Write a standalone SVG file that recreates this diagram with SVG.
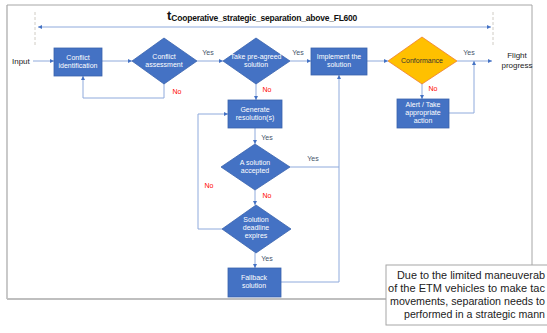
<svg xmlns="http://www.w3.org/2000/svg" width="547" height="333" viewBox="0 0 547 333">
<style>
.bx{fill:#4472C4;stroke:#3A63AD;stroke-width:0.8}
.nt{font-family:"Liberation Sans",Arial,sans-serif;font-size:7px;fill:#fff;text-anchor:middle}
.lb{font-family:"Liberation Sans",Arial,sans-serif;font-size:7px;fill:#44546A;text-anchor:middle}
.no{font-family:"Liberation Sans",Arial,sans-serif;font-size:7px;fill:#FF0000;text-anchor:middle}
.ed{fill:none;stroke:#8FAADC;stroke-width:1}
.tx{font-family:"Liberation Sans",Arial,sans-serif;font-size:8px;fill:#222}
.nt2{font-family:"Liberation Sans",Arial,sans-serif;font-size:10.5px;fill:#222}
</style>
<defs>
<marker id="ah" viewBox="0 0 6 6" refX="6" refY="3" markerWidth="4" markerHeight="4" markerUnits="userSpaceOnUse" orient="auto-start-reverse">
<path d="M0,0 L6,3 L0,6 z" fill="#4472C4"/>
</marker>
</defs>
<rect width="547" height="333" fill="#fff"/>
<g id="frame">
<path d="M7,5 H532 V265" fill="none" stroke="#A6A6A6" stroke-width="1"/>
<path d="M7,5 V299" fill="none" stroke="#A6A6A6" stroke-width="1.2"/>
<path d="M7,299 H386" fill="none" stroke="#BFBFBF" stroke-width="2"/>
<line x1="35" y1="12" x2="35" y2="46" stroke="#D0CCC4" stroke-width="1" stroke-dasharray="3,2"/>
<line x1="493" y1="12" x2="493" y2="46" stroke="#D0CCC4" stroke-width="1" stroke-dasharray="3,2"/>
<line x1="38" y1="27" x2="491" y2="27" class="ed" marker-start="url(#ah)" marker-end="url(#ah)"/>
<text x="167" y="20" font-family="Liberation Sans,Arial,sans-serif" font-weight="bold" font-size="13" fill="#111">t<tspan font-size="8.5" dy="1" textLength="186">Cooperative_strategic_separation_above_FL600</tspan></text>
</g>
<g id="connectors">
<path class="ed" d="M33,61 H54" marker-end="url(#ah)"/>
<path class="ed" d="M102,61 H132" marker-end="url(#ah)"/>
<path class="ed" d="M164,83 V98 H83 V76" marker-end="url(#ah)"/>
<path class="ed" d="M197,61 H223" marker-end="url(#ah)"/>
<path class="ed" d="M290,61 H311" marker-end="url(#ah)"/>
<path class="ed" d="M256,83 V100" marker-end="url(#ah)"/>
<path class="ed" d="M367,61 H388" marker-end="url(#ah)"/>
<path class="ed" d="M457,61 H492" marker-end="url(#ah)"/>
<path class="ed" d="M422,83 V99" marker-end="url(#ah)"/>
<path class="ed" d="M449,113 H474 V61" marker-end="url(#ah)"/>
<path class="ed" d="M255,128 V144" marker-end="url(#ah)"/>
<path class="ed" d="M290,167 H339"/>
<path class="ed" d="M255,190 V205" marker-end="url(#ah)"/>
<path class="ed" d="M222,229 H198 V114 H228" marker-end="url(#ah)"/>
<path class="ed" d="M255,253 V268" marker-end="url(#ah)"/>
<path class="ed" d="M281,282 H339 V75" marker-end="url(#ah)"/>
<text class="lb" x="208" y="55">Yes</text>
<text class="no" x="177" y="94">No</text>
<text class="no" x="267" y="92">No</text>
<text class="lb" x="298" y="55">Yes</text>
<text class="lb" x="469" y="55">Yes</text>
<text class="no" x="433" y="91">No</text>
<text class="lb" x="267" y="140">Yes</text>
<text class="lb" x="313" y="161">Yes</text>
<text class="no" x="267" y="198">No</text>
<text class="no" x="209" y="188">No</text>
<text class="lb" x="267" y="261">Yes</text>
</g>
<g id="input"><text class="tx" x="12" y="64">Input</text></g>
<g id="conflict-identification">
<rect class="bx" x="54" y="48" width="48" height="28"/>
<text class="nt" x="78" y="60">Conflict</text>
<text class="nt" x="78" y="68">identification</text>
</g>
<g id="conflict-assessment">
<polygon class="bx" points="164,38 197,61 164,84 132,61"/>
<text class="nt" x="164" y="59">Conflict</text>
<text class="nt" x="164" y="67">assessment</text>
</g>
<g id="take-pre-agreed">
<polygon class="bx" points="256,38 290,61 256,84 223,61"/>
<text class="nt" x="256" y="59">Take pre-agreed</text>
<text class="nt" x="256" y="67">solution</text>
</g>
<g id="implement">
<rect class="bx" x="311" y="48" width="56" height="27"/>
<text class="nt" x="339" y="59">Implement the</text>
<text class="nt" x="339" y="67">solution</text>
</g>
<g id="conformance">
<polygon points="422,37 457,61 422,84 388,61" fill="#FFC000" stroke="#ED7D31" stroke-width="0.8"/>
<text class="nt" x="422" y="63" style="fill:#333">Conformance</text>
</g>
<g id="flight-progress">
<text class="tx" x="517" y="58" text-anchor="middle">Flight</text>
<text class="tx" x="517" y="68" text-anchor="middle">progress</text>
</g>
<g id="alert">
<rect class="bx" x="397" y="99" width="52" height="29"/>
<text class="nt" x="423" y="107">Alert / Take</text>
<text class="nt" x="423" y="115">appropriate</text>
<text class="nt" x="423" y="123">action</text>
</g>
<g id="generate">
<rect class="bx" x="228" y="100" width="54" height="28"/>
<text class="nt" x="255" y="112">Generate</text>
<text class="nt" x="255" y="120">resolution(s)</text>
</g>
<g id="solution-accepted">
<polygon class="bx" points="255,144 290,167 255,190 221,167"/>
<text class="nt" x="255" y="165">A solution</text>
<text class="nt" x="255" y="173">accepted</text>
</g>
<g id="deadline">
<polygon class="bx" points="256,205 291,229 256,253 222,229"/>
<text class="nt" x="256" y="222">Solution</text>
<text class="nt" x="256" y="230">deadline</text>
<text class="nt" x="256" y="238">expires</text>
</g>
<g id="fallback">
<rect class="bx" x="228" y="268" width="53" height="29"/>
<text class="nt" x="254" y="280">Fallback</text>
<text class="nt" x="254" y="288">solution</text>
</g>
<g id="note">
<rect x="386" y="265" width="170" height="60" fill="#fff" stroke="#A6A6A6" stroke-width="1"/>
<text class="nt2" x="397" y="279" textLength="148" lengthAdjust="spacingAndGlyphs">Due to the limited maneuverab</text>
<text class="nt2" x="388" y="292" textLength="157" lengthAdjust="spacingAndGlyphs">of the ETM vehicles to make tac</text>
<text class="nt2" x="390" y="305" textLength="155" lengthAdjust="spacingAndGlyphs">movements, separation needs to</text>
<text class="nt2" x="404" y="318" textLength="141" lengthAdjust="spacingAndGlyphs">performed in a strategic mann</text>
</g>
</svg>
